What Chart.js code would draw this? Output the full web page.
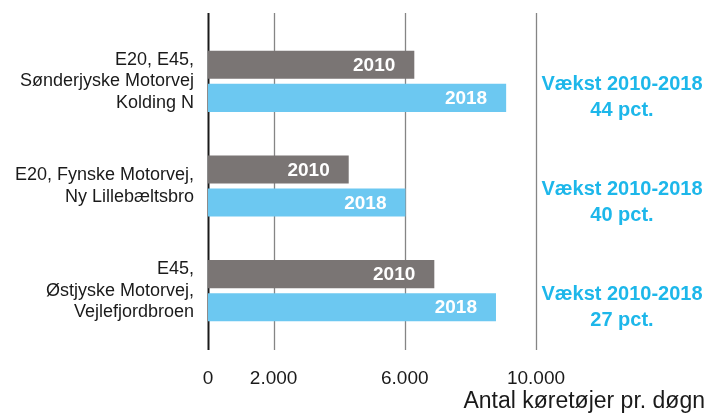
<!DOCTYPE html>
<html>
<head>
<meta charset="utf-8">
<script src="https://cdn.jsdelivr.net/npm/chart.js@4"></script>
<style>
  html, body { margin: 0; padding: 0; background: #fff; }
  #wrap { width: 708px; height: 414px; }
</style>
</head>
<body>
<div id="wrap"><canvas id="trafficChart"></canvas></div>
<script>
// Data
const roads = [
  ['E20, E45,', 'Sønderjyske Motorvej', 'Kolding N'],
  ['E20, Fynske Motorvej,', 'Ny Lillebæltsbro'],
  ['E45,', 'Østjyske Motorvej,', 'Vejlefjordbroen']
];
const years = ['2010', '2018'];
const traffic2010 = [6290, 4290, 6900];
const traffic2018 = [9090, 6020, 8780];
const growthPct = [44, 40, 27];
const xTicks = [0, 2000, 6000, 10000];
const axisTitle = 'Antal køretøjer pr. døgn';

const GRAY = '#7a7574';
const BLUE = '#6cc8f1';
const GROWTH_BLUE = '#1db7ea';
const FONT = '"Liberation Sans", Arial, sans-serif';

function formatDa(v) {
  return v.toString().replace(/\B(?=(\d{3})+(?!\d))/g, '.');
}

// vertical grid lines that run a bit past the plot area
const gridPlugin = {
  id: 'gridLines',
  beforeDatasetsDraw(chart) {
    const { ctx, chartArea, scales } = chart;
    ctx.save();
    xTicks.forEach(v => {
      const x = Math.round(scales.x.getPixelForValue(v)) + 0.5;
      ctx.beginPath();
      ctx.strokeStyle = v === 0 ? '#1a1a1a' : '#858585';
      ctx.lineWidth = v === 0 ? 2 : 1.3;
      ctx.moveTo(x, chartArea.top - 16);
      ctx.lineTo(x, chartArea.bottom + 7);
      ctx.stroke();
    });
    ctx.restore();
  }
};

// year labels in the bars, growth text on the right, axis title
const labelPlugin = {
  id: 'labels',
  afterDatasetsDraw(chart) {
    const { ctx, chartArea } = chart;
    ctx.save();
    ctx.font = 'bold 19px ' + FONT;
    ctx.fillStyle = '#fff';
    ctx.textAlign = 'right';
    ctx.textBaseline = 'middle';
    chart.data.datasets.forEach((ds, di) => {
      chart.getDatasetMeta(di).data.forEach(bar => {
        ctx.fillText(ds.label, bar.x - 19, bar.y + 1);
      });
    });

    ctx.font = 'bold 20px ' + FONT;
    ctx.fillStyle = GROWTH_BLUE;
    ctx.textAlign = 'center';
    const cx = (chartArea.right + chart.width) / 2;
    chart.getDatasetMeta(1).data.forEach((bar, i) => {
      ctx.fillText('Vækst 2010-2018', cx, bar.y - 13);
      ctx.fillText(growthPct[i] + ' pct.', cx, bar.y + 13);
    });

    ctx.font = '23px ' + FONT;
    ctx.fillStyle = '#1a1a1a';
    ctx.textAlign = 'right';
    ctx.textBaseline = 'alphabetic';
    ctx.fillText(axisTitle, chart.width - 3, chart.height - 6);
    ctx.restore();
  }
};

const ctx = document.getElementById('trafficChart').getContext('2d');
new Chart(ctx, {
  type: 'bar',
  data: {
    labels: roads,
    datasets: [{
      label: years[0],
      data: traffic2010,
      backgroundColor: GRAY,
      categoryPercentage: 0.632,
      barPercentage: 0.85
    }, {
      label: years[1],
      data: traffic2018,
      backgroundColor: BLUE,
      categoryPercentage: 0.632,
      barPercentage: 0.85
    }]
  },
  options: {
    indexAxis: 'y',
    responsive: true,
    maintainAspectRatio: false,
    animation: false,
    layout: { padding: { top: 29, right: 172, left: 0, bottom: 0 } },
    plugins: {
      legend: { display: false },
      tooltip: { enabled: false }
    },
    scales: {
      x: {
        min: 0,
        max: 10000,
        afterBuildTicks: scale => { scale.ticks = xTicks.map(v => ({ value: v })); },
        afterFit: scale => { scale.height = 71; },
        grid: { display: false, drawTicks: false },
        border: { display: false },
        ticks: {
          padding: 24,
          color: '#1a1a1a',
          font: { family: FONT, size: 19 },
          callback: v => formatDa(v),
          autoSkip: false,
          maxRotation: 0
        }
      },
      y: {
        afterFit: scale => {
          scale.width = 208;
          scale.paddingTop = 0;
          scale.paddingBottom = 0;
        },
        grid: { display: false, drawTicks: false },
        border: { display: false },
        ticks: {
          padding: 14,
          color: '#1a1a1a',
          font: { family: FONT, size: 18, lineHeight: '21.5px' },
          autoSkip: false
        }
      }
    }
  },
  plugins: [gridPlugin, labelPlugin]
});
</script>
</body>
</html>
